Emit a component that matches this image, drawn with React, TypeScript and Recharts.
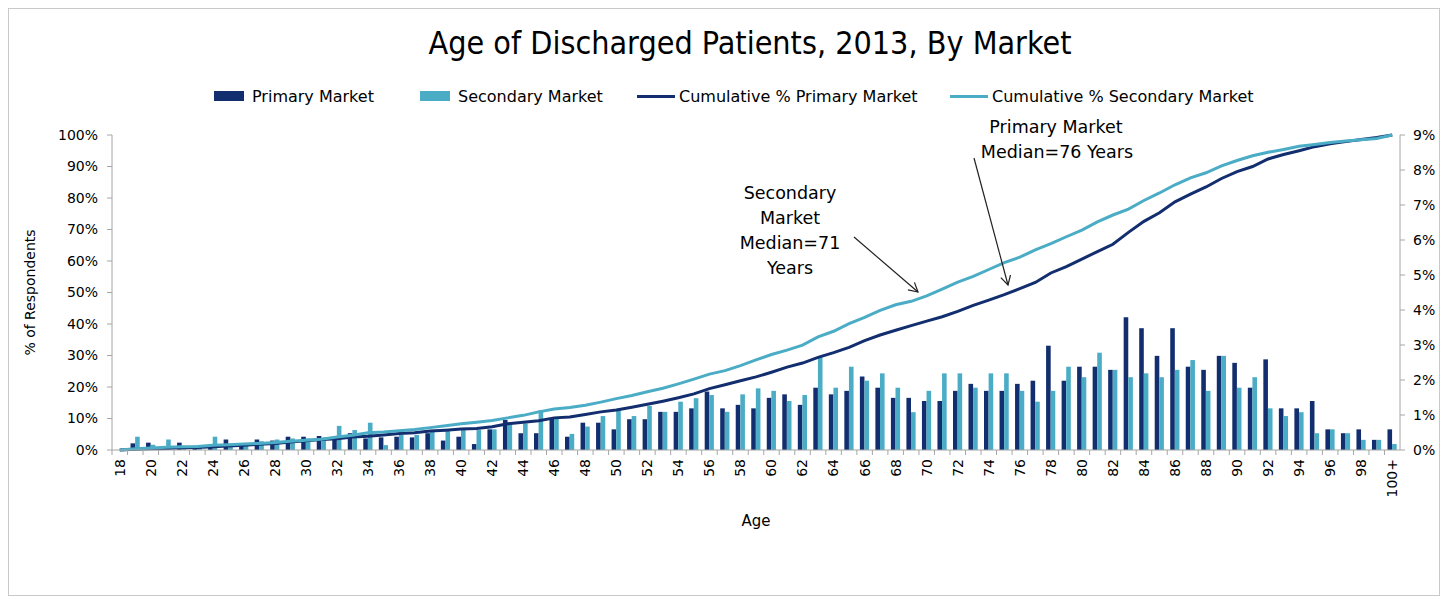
import React from "react";
import { ComposedChart, Bar, Line, XAxis, YAxis } from "recharts";

const ages = [
  "18", "19", "20", "21", "22", "23", "24", "25", "26", "27", "28", "29", "30", "31",
  "32", "33", "34", "35", "36", "37", "38", "39", "40", "41", "42", "43", "44", "45",
  "46", "47", "48", "49", "50", "51", "52", "53", "54", "55", "56", "57", "58", "59",
  "60", "61", "62", "63", "64", "65", "66", "67", "68", "69", "70", "71", "72", "73",
  "74", "75", "76", "77", "78", "79", "80", "81", "82", "83", "84", "85", "86", "87",
  "88", "89", "90", "91", "92", "93", "94", "95", "96", "97", "98", "99", "100+",
];

// share of discharges per age (right axis, %)
const primaryMarket = [
  0, 0.19, 0.21, 0.1, 0.21, 0.12, 0.15, 0.3, 0.2, 0.3, 0.27, 0.38, 0.38, 0.4,
  0.29, 0.48, 0.33, 0.36, 0.38, 0.36, 0.48, 0.27, 0.38, 0.17, 0.59, 0.86, 0.48, 0.48,
  0.89, 0.38, 0.78, 0.78, 0.59, 0.88, 0.88, 1.09, 1.09, 1.19, 1.67, 1.19, 1.29, 1.19,
  1.49, 1.59, 1.29, 1.78, 1.59, 1.69, 2.1, 1.78, 1.49, 1.49, 1.4, 1.4, 1.69, 1.89,
  1.69, 1.69, 1.89, 1.98, 2.98, 1.98, 2.38, 2.38, 2.29, 3.79, 3.48, 2.69, 3.48, 2.38,
  2.29, 2.69, 2.49, 1.78, 2.59, 1.19, 1.19, 1.4, 0.59, 0.48, 0.59, 0.29, 0.59,
];
const secondaryMarket = [
  0.03, 0.38, 0.15, 0.3, 0.1, 0.12, 0.38, 0.15, 0.2, 0.25, 0.3, 0.33, 0.33, 0.35,
  0.69, 0.57, 0.78, 0.14, 0.43, 0.43, 0.52, 0.57, 0.57, 0.57, 0.59, 0.76, 0.76, 1.14,
  0.89, 0.46, 0.67, 0.97, 1.14, 0.97, 1.26, 1.09, 1.38, 1.48, 1.57, 1.09, 1.59, 1.76,
  1.69, 1.4, 1.57, 2.65, 1.78, 2.38, 1.98, 2.19, 1.78, 1.08, 1.69, 2.19, 2.19, 1.78,
  2.19, 2.19, 1.69, 1.38, 1.69, 2.38, 2.08, 2.78, 2.29, 2.08, 2.19, 2.08, 2.29, 2.57,
  1.69, 2.69, 1.78, 2.08, 1.19, 0.97, 1.08, 0.48, 0.59, 0.48, 0.29, 0.29, 0.17,
];

// cumulative share (left axis, %)
const cumPrimary = [
  0, 0.2, 0.4, 0.5, 0.7, 0.8, 1.0, 1.3, 1.5, 1.8, 2.1, 2.5, 2.9, 3.3,
  3.6, 4.1, 4.4, 4.8, 5.2, 5.5, 6.0, 6.3, 6.7, 6.8, 7.4, 8.3, 8.8, 9.3,
  10.2, 10.5, 11.3, 12.1, 12.7, 13.6, 14.5, 15.5, 16.6, 17.8, 19.5, 20.7, 22.0, 23.2,
  24.7, 26.3, 27.6, 29.4, 30.9, 32.6, 34.7, 36.5, 38.0, 39.5, 40.9, 42.3, 44.0, 45.9,
  47.6, 49.3, 51.2, 53.2, 56.2, 58.2, 60.6, 63.0, 65.3, 69.1, 72.6, 75.3, 78.8, 81.2,
  83.5, 86.2, 88.4, 90.0, 92.4, 93.8, 95.0, 96.3, 97.2, 97.9, 98.6, 99.2, 100,
];
const cumSecondary = [
  0, 0.4, 0.6, 0.9, 1.0, 1.1, 1.5, 1.7, 1.9, 2.1, 2.4, 2.8, 3.1, 3.4,
  4.1, 4.7, 5.5, 5.7, 6.1, 6.5, 7.1, 7.7, 8.3, 8.8, 9.4, 10.2, 11.0, 12.1,
  13.0, 13.5, 14.2, 15.2, 16.3, 17.3, 18.5, 19.6, 21.0, 22.5, 24.1, 25.2, 26.8, 28.6,
  30.3, 31.7, 33.3, 35.9, 37.7, 40.1, 42.1, 44.3, 46.1, 47.2, 48.9, 51.1, 53.3, 55.1,
  57.3, 59.5, 61.2, 63.5, 65.5, 67.7, 69.8, 72.4, 74.6, 76.5, 79.2, 81.6, 84.2, 86.4,
  88.0, 90.2, 91.9, 93.4, 94.5, 95.4, 96.4, 97.0, 97.6, 98.1, 98.5, 98.9, 100,
];

const leftTicks = [0, 10, 20, 30, 40, 50, 60, 70, 80, 90, 100];
const rightTicks = [0, 1, 2, 3, 4, 5, 6, 7, 8, 9];

const data = ages.map((age, i) => ({
  age,
  primary: primaryMarket[i],
  secondary: secondaryMarket[i],
  cumPrimary: cumPrimary[i],
  cumSecondary: cumSecondary[i],
}));

const DARK = "#122e6e";
const LIGHT = "#4bacc6";
const AXIS = "#a6a6a6";
const FONT = "'DejaVu Sans', sans-serif";

const W = 1430;
const H = 586;
const PLOT_LEFT = 103;
const PLOT_RIGHT = 1391;
const BAND = (PLOT_RIGHT - PLOT_LEFT) / ages.length;

const AgeTick = (props: any) => {
  const { x, y, payload, index } = props;
  const show = index % 2 === 0;
  return (
    <g>
      <line x1={x - BAND / 2} y1={y - 8} x2={x - BAND / 2} y2={y - 3} stroke={AXIS} />
      {show && (
        <text
          x={x}
          y={y + 1}
          dy="0.35em"
          textAnchor="end"
          transform={`rotate(-90, ${x}, ${y + 1})`}
          fontSize={14}
          fontFamily={FONT}
          fill="#000"
        >
          {payload.value}
        </text>
      )}
    </g>
  );
};

const legendItems = [
  { label: "Primary Market", color: DARK, kind: "bar", x: 205 },
  { label: "Secondary Market", color: LIGHT, kind: "bar", x: 411 },
  { label: "Cumulative % Primary Market", color: DARK, kind: "line", x: 628 },
  { label: "Cumulative % Secondary Market", color: LIGHT, kind: "line", x: 941 },
];

export default function App() {
  return (
    <div
      style={{
        position: "relative",
        width: W,
        height: H,
        border: "1px solid #c9c9c9",
        background: "#fff",
        fontFamily: FONT,
      }}
    >
      <div
        style={{
          position: "absolute",
          top: 15,
          left: 26,
          width: W,
          textAlign: "center",
          fontSize: 32,
          fontFamily: "'DejaVu Sans Condensed', 'DejaVu Sans', sans-serif",
          color: "#000",
        }}
      >
        Age of Discharged Patients, 2013, By Market
      </div>
      {legendItems.map((it) => (
        <div
          key={it.label}
          style={{
            position: "absolute",
            top: 77,
            left: it.x,
            height: 20,
            display: "flex",
            alignItems: "center",
            fontSize: 16,
            whiteSpace: "nowrap",
          }}
        >
          {it.kind === "bar" ? (
            <span style={{ display: "inline-block", width: 30, height: 10, background: it.color, marginRight: 8 }} />
          ) : (
            <span style={{ display: "inline-block", width: 38, height: 3, background: it.color, marginRight: 4 }} />
          )}
          {it.label}
        </div>
      ))}
      <ComposedChart
        width={W}
        height={H}
        data={data}
        margin={{ top: 126, right: 0, bottom: 65, left: 0 }}
        barGap={0}
        barSize={4.6}
        style={{ position: "absolute", top: 0, left: 0 }}
      >
        <XAxis
          dataKey="age"
          interval={0}
          height={80}
          tick={<AgeTick />}
          tickLine={false}
          axisLine={{ stroke: AXIS }}
          label={{ value: "Age", position: "insideBottom", offset: 4, fontSize: 15, fill: "#000", fontFamily: FONT }}
        />
        <YAxis
          yAxisId="left"
          width={PLOT_LEFT}
          domain={[0, 100]}
          ticks={leftTicks}
          interval={0}
          tickFormatter={(v) => `${v}%`}
          tick={{ fontSize: 14, fill: "#000", fontFamily: FONT }}
          tickSize={5}
          tickMargin={9}
          stroke={AXIS}
          label={{
            value: "% of Respondents",
            angle: -90,
            position: "insideLeft",
            offset: 21,
            style: { textAnchor: "middle", fontSize: 14, fill: "#000", fontFamily: FONT },
          }}
        />
        <YAxis
          yAxisId="right"
          orientation="right"
          width={W - PLOT_RIGHT}
          domain={[0, 9]}
          ticks={rightTicks}
          interval={0}
          tickFormatter={(v) => `${v}%`}
          tick={{ fontSize: 14, fill: "#000", fontFamily: FONT }}
          tickSize={5}
          tickMargin={8}
          stroke={AXIS}
        />
        <Bar yAxisId="right" dataKey="primary" fill={DARK} isAnimationActive={false} />
        <Bar yAxisId="right" dataKey="secondary" fill={LIGHT} isAnimationActive={false} />
        <Line yAxisId="left" dataKey="cumPrimary" stroke={DARK} strokeWidth={3} dot={false} type="linear" isAnimationActive={false} />
        <Line yAxisId="left" dataKey="cumSecondary" stroke={LIGHT} strokeWidth={3} dot={false} type="linear" isAnimationActive={false} />
      </ComposedChart>
      <svg
        width={W}
        height={H}
        style={{ position: "absolute", top: 0, left: 0, pointerEvents: "none" }}
        fontFamily={FONT}
        fontSize={17.5}
      >
        <defs>
          <marker id="arr" markerWidth="12" markerHeight="12" refX="10" refY="6" orient="auto" markerUnits="userSpaceOnUse">
            <path d="M1,1 L10,6 L1,11" fill="none" stroke="#222" strokeWidth="1.2" />
          </marker>
        </defs>
        <text x={1047} y={124} textAnchor="middle">Primary Market</text>
        <text x={1048} y={149} textAnchor="middle">Median=76 Years</text>
        <text x={781} y={190} textAnchor="middle">Secondary</text>
        <text x={781} y={215} textAnchor="middle">Market</text>
        <text x={781} y={240} textAnchor="middle">Median=71</text>
        <text x={781} y={265} textAnchor="middle">Years</text>
        <line x1={965} y1={149} x2={999} y2={276} stroke="#222" strokeWidth={1.2} markerEnd="url(#arr)" />
        <line x1={845} y1={228} x2={909} y2={283} stroke="#222" strokeWidth={1.2} markerEnd="url(#arr)" />
      </svg>
    </div>
  );
}
